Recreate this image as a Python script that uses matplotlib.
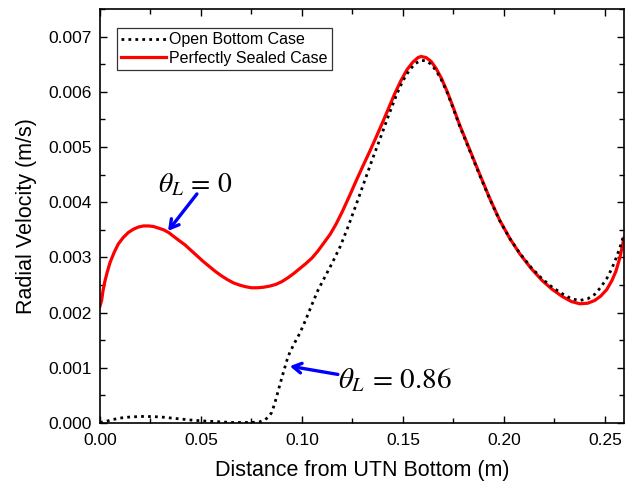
import matplotlib
matplotlib.use("Agg")
import matplotlib.pyplot as plt
from matplotlib.ticker import MultipleLocator, FormatStrFormatter

# ---- data ----
sealed_x = [0.0, 0.0008, 0.0015, 0.0025, 0.0037, 0.005, 0.007, 0.009, 0.0115, 0.014, 0.0165,
            0.019, 0.0215, 0.024, 0.0265, 0.029, 0.0315, 0.034, 0.0365, 0.039, 0.042, 0.045,
            0.048, 0.051, 0.054, 0.057, 0.060, 0.063, 0.066, 0.069, 0.072, 0.075, 0.078,
            0.081, 0.084, 0.087, 0.090, 0.093, 0.096, 0.099, 0.102, 0.105, 0.108, 0.111,
            0.114, 0.117, 0.120, 0.124, 0.127, 0.130, 0.1337, 0.137, 0.140, 0.143, 0.146,
            0.149, 0.152, 0.155, 0.1575, 0.159, 0.1615, 0.164, 0.1665, 0.169, 0.172, 0.175,
            0.178, 0.183, 0.188, 0.193, 0.198, 0.203, 0.208, 0.2135, 0.219, 0.224, 0.229,
            0.2335, 0.2376, 0.2415, 0.245, 0.248, 0.251, 0.2535, 0.2555, 0.2575, 0.2595]
sealed_y = [0.00212, 0.00222, 0.00240, 0.00258, 0.00275, 0.00291, 0.00309, 0.00324, 0.00336, 0.00345, 0.00351,
            0.00355, 0.00357, 0.00357, 0.00356, 0.00353, 0.00350, 0.00345, 0.00338, 0.00331, 0.00323, 0.00313,
            0.00303, 0.00293, 0.00284, 0.00275, 0.00267, 0.00260, 0.00254, 0.00250, 0.00247, 0.00245, 0.00245,
            0.00246, 0.00248, 0.00251, 0.00256, 0.00263, 0.00271, 0.00280, 0.00289, 0.00299, 0.00312, 0.00327,
            0.00342, 0.00361, 0.00383, 0.00415, 0.00440, 0.00464, 0.00493, 0.00520, 0.00545, 0.00571, 0.00597,
            0.00620, 0.00640, 0.00654, 0.00662, 0.00664, 0.00662, 0.00655, 0.00642, 0.00625, 0.00600, 0.00571,
            0.00541, 0.00496, 0.00451, 0.00407, 0.00367, 0.00334, 0.00306, 0.00280, 0.00258, 0.00242, 0.00229,
            0.00220, 0.00216, 0.00217, 0.00222, 0.00230, 0.00242, 0.00258, 0.00275, 0.00300, 0.00335]

open_x = [0.0, 0.003, 0.006, 0.010, 0.015, 0.022, 0.030, 0.038, 0.046, 0.055, 0.065, 0.075,
          0.079, 0.0817, 0.0835, 0.085, 0.0865, 0.088, 0.0895, 0.091, 0.0926, 0.094, 0.0965,
          0.099, 0.102, 0.105, 0.108, 0.111, 0.115, 0.119, 0.123, 0.127, 0.131, 0.135, 0.139,
          0.143, 0.147, 0.150, 0.153, 0.156, 0.159, 0.1615, 0.164, 0.1665, 0.169, 0.172, 0.175,
          0.178, 0.183, 0.188, 0.193, 0.198, 0.203, 0.208, 0.2135, 0.219, 0.224, 0.229, 0.2335,
          0.2376, 0.2415, 0.245, 0.248, 0.251, 0.2535, 0.2555, 0.2575, 0.2595]
open_y = [0.00001, 0.00003, 0.00006, 0.00009, 0.00011, 0.00012, 0.00011, 0.00008, 0.00005, 0.00003, 0.00001, 0.00001,
          0.00002, 0.00006, 0.00011, 0.00019, 0.00035, 0.00055, 0.00075, 0.00094, 0.00114, 0.00128, 0.00146,
          0.00163, 0.00188, 0.00215, 0.00241, 0.00262, 0.00290, 0.00320, 0.00357, 0.00397, 0.00438, 0.00479, 0.00518,
          0.00558, 0.00596, 0.00620, 0.00638, 0.00651, 0.00657, 0.00656, 0.00650, 0.00638, 0.00622, 0.00598, 0.00569,
          0.00539, 0.00494, 0.00449, 0.00406, 0.00366, 0.00334, 0.00307, 0.00282, 0.00261, 0.00246, 0.00234, 0.00225,
          0.00222, 0.00225, 0.00233, 0.00246, 0.00262, 0.00280, 0.00298, 0.00318, 0.00342]

labels = ["Open Bottom Case", "Perfectly Sealed Case"]
x_ticks = [0.00, 0.05, 0.10, 0.15, 0.20, 0.25]
y_ticks = [0.000, 0.001, 0.002, 0.003, 0.004, 0.005, 0.006, 0.007]

plt.rcParams['font.family'] = ['Liberation Sans', 'DejaVu Sans']
plt.rcParams['mathtext.fontset'] = 'stix'

fig = plt.figure(figsize=(6.25, 4.87), dpi=100)
ax = fig.add_axes([0.16, 0.1314, 0.8384, 0.8501])

ax.plot(open_x, open_y, color='black', lw=2.0, linestyle=(0, (1, 1.5)),
        dash_capstyle='butt', label=labels[0], zorder=3)
ax.plot(sealed_x, sealed_y, color='#ff0000', lw=2.3, label=labels[1], zorder=2)

ax.set_xlim(0, 0.2595)
ax.set_ylim(0, 0.0075)
ax.set_xticks(x_ticks)
ax.set_yticks(y_ticks)
ax.xaxis.set_major_formatter(FormatStrFormatter('%.2f'))
ax.yaxis.set_major_formatter(FormatStrFormatter('%.3f'))
ax.xaxis.set_minor_locator(MultipleLocator(0.025))
ax.yaxis.set_minor_locator(MultipleLocator(0.0005))
ax.tick_params(which='both', direction='in', top=True, right=True, width=1.0, labelsize=12.5)
ax.tick_params(which='major', length=5)
ax.tick_params(which='minor', length=3.5)
ax.tick_params(axis='x', pad=7)
ax.tick_params(axis='y', pad=6)
for s in ax.spines.values():
    s.set_linewidth(1.2)

ax.set_xlabel("Distance from UTN Bottom (m)", fontsize=15.5, labelpad=9)
ax.set_ylabel("Radial Velocity (m/s)", fontsize=15.5, labelpad=8)

leg = ax.legend(loc='upper left', bbox_to_anchor=(0.033, 0.953), fontsize=11.5,
                frameon=True, fancybox=False, handlelength=2.8, handletextpad=0.2,
                borderpad=0.25, labelspacing=0.2, borderaxespad=0)
leg.get_frame().set_edgecolor('black')
leg.get_frame().set_linewidth(0.9)

arrow = dict(arrowstyle='->, head_length=0.6, head_width=0.35', color='#0000ff', lw=2.4,
             shrinkA=0, shrinkB=0)
ax.annotate('', xy=(0.0337, 0.00348), xytext=(0.048, 0.00415), arrowprops=arrow)
ax.text(0.0287, 0.00417, r'$\theta_{L}\,=\,0$', fontsize=20, va='baseline', ha='left')

ax.annotate('', xy=(0.094, 0.00103), xytext=(0.1178, 0.00088), arrowprops=arrow)
ax.text(0.1178, 0.00064, r'$\theta_{L}\,=\,0.86$', fontsize=21, va='baseline', ha='left')

fig.savefig('out.png', dpi=100)
